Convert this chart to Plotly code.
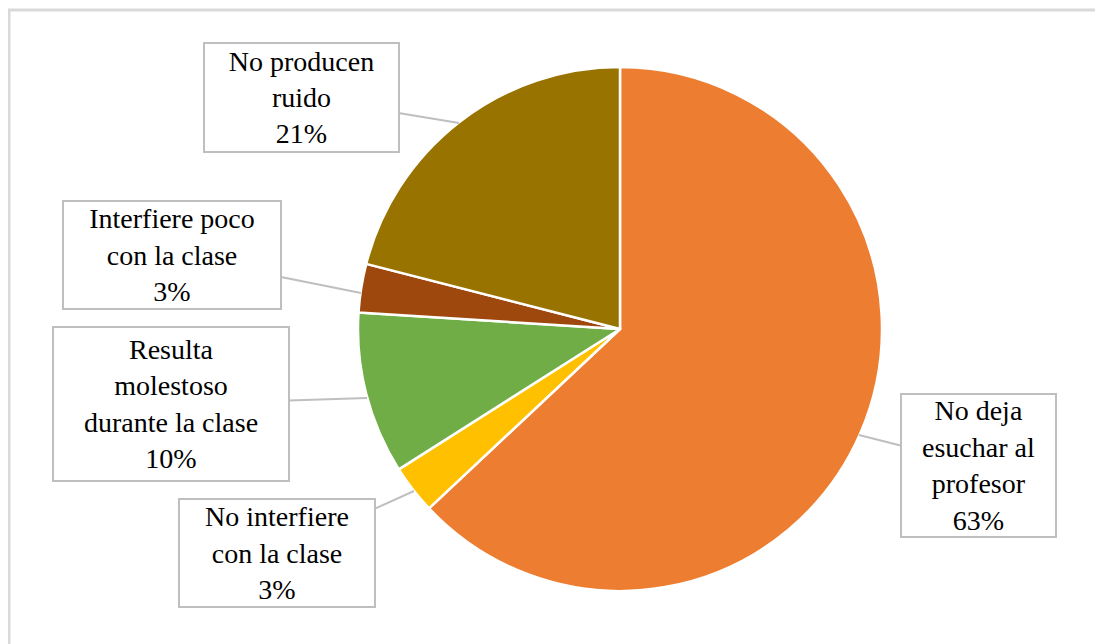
import plotly.graph_objects as go

labels = ["No deja<br>esuchar al<br>profesor", "No interfiere<br>con la clase",
          "Resulta<br>molestoso<br>durante la clase", "Interfiere poco<br>con la clase",
          "No producen<br>ruido"]
values = [63, 3, 10, 3, 21]
colors = ["#ED7D31", "#FFC000", "#70AD47", "#9E480E", "#997300"]

# page body has an 8px margin; work in page pixel coordinates and shift
OFF = 8
W, H = 1103 - OFF, 644 - OFF
cx, cy, r = 620 - OFF, 329 - OFF, 262

fig = go.Figure(go.Pie(
    labels=labels, values=values, sort=False, direction="clockwise", rotation=0,
    marker=dict(colors=colors, line=dict(color="white", width=2.5)),
    textinfo="none", hoverinfo="label+percent", showlegend=False,
    domain=dict(x=[(cx - r) / W, (cx + r) / W], y=[1 - (cy + r) / H, 1 - (cy - r) / H]),
))

# callout boxes in page pixels: (tip x, tip y, box center x, box center y, box w, box h)
callouts = [
    (859, 435, 978, 465, 157, 145),
    (414, 491, 277, 553, 198, 110),
    (367, 398, 171, 404, 238, 156),
    (361, 293, 172, 255, 220, 110),
    (459, 123, 301, 97, 197, 111),
]
total = sum(values)
annotations = []
for lab, v, (tx, ty, bx, by, bw, bh) in zip(labels, values, callouts):
    tx, ty = tx - OFF, ty - OFF
    bx, by = bx - OFF, by - OFF
    annotations.append(dict(
        x=tx / W, y=1 - ty / H, xref="paper", yref="paper",
        ax=bx - tx, ay=by - ty, axref="pixel", ayref="pixel",
        text=f"{lab}<br>{round(100 * v / total)}%",
        showarrow=True, arrowhead=0, arrowwidth=2, arrowcolor="#BFBFBF",
        bordercolor="#BFBFBF", borderwidth=2, borderpad=0,
        bgcolor="white", width=bw - 4, height=bh - 4,
        font=dict(family="Liberation Serif, Times New Roman, serif", size=28, color="black"),
        align="center", valign="middle",
    ))

fig.update_layout(
    width=W, height=H, margin=dict(l=0, r=0, t=0, b=0),
    paper_bgcolor="white", plot_bgcolor="white",
    font=dict(family="Liberation Serif, Times New Roman, serif"),
    annotations=annotations,
    shapes=[
        dict(type="line", xref="paper", yref="paper", x0=0, x1=1, y0=1 - 2 / H, y1=1 - 2 / H,
             line=dict(color="#D9D9D9", width=3)),
        dict(type="line", xref="paper", yref="paper", x0=1 / W, x1=1 / W, y0=0, y1=1 - 2 / H,
             line=dict(color="#D9D9D9", width=3)),
    ],
)
fig.write_html("out.html")
